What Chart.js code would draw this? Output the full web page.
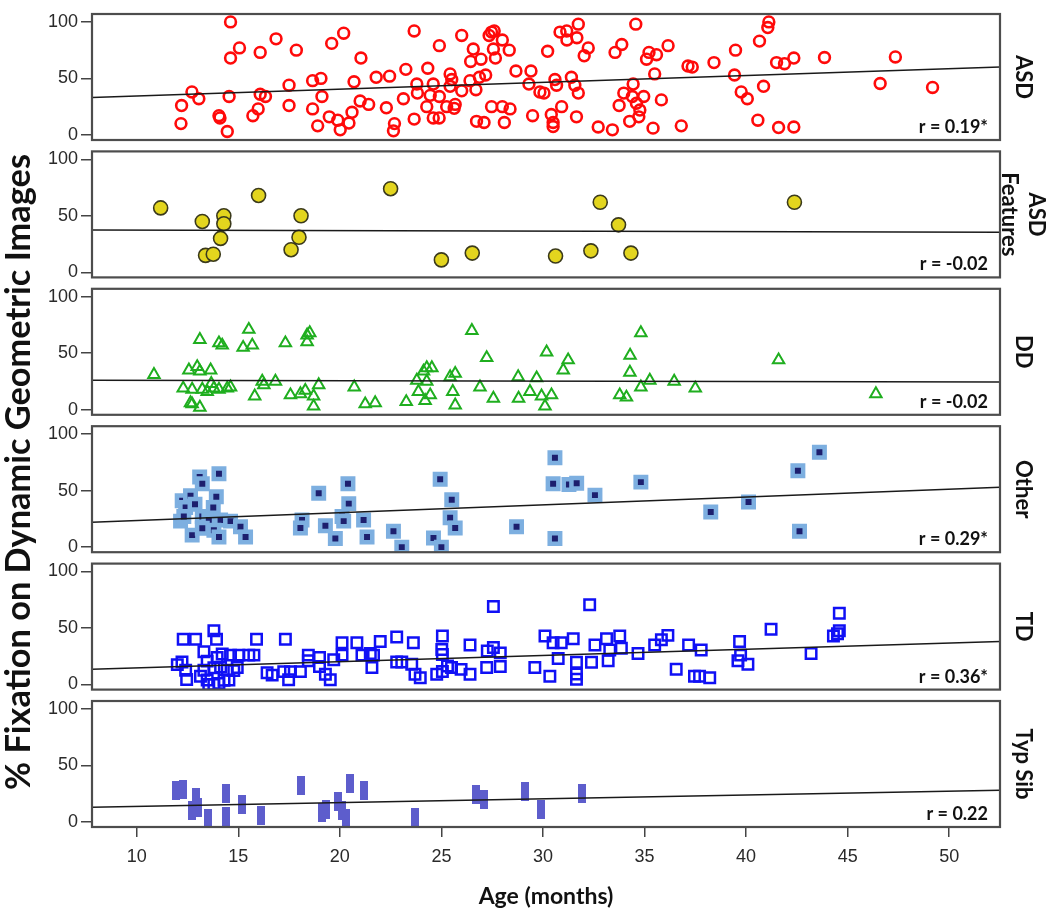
<!DOCTYPE html>
<html><head><meta charset="utf-8">
<script src="https://cdn.jsdelivr.net/npm/chart.js@4.4.1/dist/chart.umd.min.js"></script>
<style>html,body{margin:0;padding:0;background:#fff;}#wrap{position:relative;width:1050px;height:918px;}canvas{display:block;}</style>
</head><body><div id="wrap"><canvas id="c" width="1050" height="918"></canvas></div>
<script>
// ---------- data ----------
const xTicks = [10, 15, 20, 25, 30, 35, 40, 45, 50];
const yTicks = [0, 50, 100];
const xRange = [7.8, 52.5];
const yRange = [-4.5, 107];
const groupNames = ['ASD', ['ASD', 'Features'], 'DD', 'Other', 'TD', 'Typ Sib'];
const rLabels = ['r = 0.19*', 'r = -0.02', 'r = -0.02', 'r = 0.29*', 'r = 0.36*', 'r = 0.22'];
const xTitle = 'Age (months)';
const yTitle = '% Fixation on Dynamic Geometric Images';
// fit line values at the left / right edge of the age range
const fitLeft = [33, 37.5, 26, 22, 13.5, 13];
const fitRight = [60, 35.5, 24.5, 53, 38, 28];

const asdPoints = [[14.62,100],[15.06,77],[14.62,68],[16.08,73],[16.86,85],[17.86,75],[19.6,81],[20.19,90],[12.21,26],[12.18,10],[12.72,38],[13.06,32],[14.05,17],[14.1,15],[14.46,3],[14.55,34],[15.72,17],[15.98,23],[16.08,36],[16.34,34],[17.5,44],[17.5,26],[18.66,48],[19.07,50],[19.12,34],[18.66,23],[18.91,8],[19.48,16],[19.9,13],[20.02,4.5],[20.6,20],[20.45,10.5],[20.7,47],
[23.66,92],[21.04,68],[24.9,79],[26.0,88],[27.47,91],[27.35,88],[27.6,92],[28.0,84],[26.57,76],[28.34,75],[27.56,76],[27.66,68],[26.44,65],[26.95,67],[30.23,74],[30.84,91],[31.17,92],[31.74,98],[31.18,84],[31.67,86],[32.23,77],[32.03,70],[33.55,73],[33.88,80],[34.57,98],[35.1,67],[35.22,73],[35.59,71],[36.16,79],[37.14,61],[35.5,54],
[21.79,51],[22.45,52],[23.25,58],[24.33,59],[23.79,45],[23.82,37],[23.13,32],[21.0,30],[21.42,27],[22.29,24],[22.69,10],[22.64,3.6],[23.66,14],[24.28,25],[24.45,35],[24.6,45],[24.9,34],[24.6,15],[24.89,15],[25.26,25],[25.43,54],[25.51,49],[25.43,43],[25.68,27],[25.63,23.5],[26.0,39],[26.41,48],[26.7,40],[26.87,51],[27.18,53],[27.47,25],[28.0,25],[28.38,23],[26.73,12],[27.1,11],[28.1,11],[28.67,56.5],[29.41,56.5],[29.31,45],[29.85,38],[30.05,37],[29.49,17],[30.41,18],[30.5,11],[30.59,49],[30.67,44],[30.92,25],[30.5,7.4],[31.4,51],[31.57,44],[31.74,37],[31.65,16],[32.72,7],[33.42,4.5],[33.75,26],[33.98,37],[34.44,45],[34.4,34],[34.6,28],[34.77,22],[34.96,34],[34.27,12],[34.72,16],[35.42,6],[35.83,31],[36.81,8],
[41.12,100],[41.07,95],[40.66,83],[39.48,75],[38.42,64],[37.35,60],[39.43,53],[39.76,38],[40.06,32],[40.86,43],[40.58,13],[41.6,6.5],[42.35,7],[41.5,64],[41.89,63],[42.35,68],[43.86,68.5],[47.35,69],[46.6,45.5],[49.18,42]];

const featPoints = [[11.18,57],[13.23,45],[14.29,50],[14.29,43],[14.13,30],[13.39,15],[13.77,16],[16.0,68],[18.09,50],[17.99,31],[17.6,20],[22.5,74],[25.0,11],[26.52,17],[32.82,62],[33.72,42],[30.62,14.4],[32.36,19],[34.33,17],[42.38,62]];

const ddPoints = [[10.85,31],[13.11,62],[12.29,19],[12.57,35],[12.98,38],[13.11,34],[13.64,35],[12.73,18],[13.23,18],[13.47,16],[13.8,19],[14.05,18],[14.46,19],[14.62,20],[13.67,23],[12.65,6],[12.73,5],[13.11,2],[14.05,59],[14.21,57],[15.24,55],[15.69,57],[15.52,71],[15.81,12],[16.18,25],[16.26,22],[16.83,25],[17.32,59],[17.57,13],[18.06,14],[18.3,17],[18.39,66],[18.52,68],[18.39,60],[18.71,12],[18.71,3],[18.96,22],[20.71,20],[21.25,5],[21.74,6],[23.27,7],[23.79,26],[23.87,16],[24.12,34],[24.28,37],[24.28,25],[24.45,13],[24.2,8],[24.53,37],[25.43,29],[25.68,32],[25.56,16],[25.68,4],[26.5,70],[27.23,46],[26.9,20],[27.56,10],[28.78,29],[28.8,10],[29.69,28],[29.36,16],[29.93,12],[30.1,3],[30.42,13],[30.18,51],[31.24,44],[31.0,35],[34.82,68],[34.29,48],[34.28,33],[33.78,13],[34.11,11],[34.82,20],[35.26,26],[36.46,25],[37.5,19],[41.6,44],[46.39,14]];

const otherPoints = [[13.1,62],[14.05,65],[13.23,56],[12.24,41],[12.65,45.5],[12.41,35],[12.87,38],[13.92,44.5],[13.77,35],[12.16,23],[12.32,27],[13.23,27],[13.55,24],[14.13,24],[12.73,10.6],[13.23,16.7],[13.8,15],[14.05,9],[14.62,23],[15.11,18],[15.36,9],[18.14,24],[18.06,17],[18.96,47.6],[19.29,19],[19.78,7.6],[20.4,56],[20.44,38.5],[20.11,27],[20.19,23],[21.17,24],[21.34,9],[22.64,14],[23.05,0],[24.61,8],[24.94,60],[25.0,0],[25.51,42],[25.43,26],[25.68,17],[28.7,18],[30.59,79],[30.5,56],[31.28,55.5],[31.66,56.6],[32.56,46],[30.59,7.6],[34.82,57.5],[38.26,31],[40.12,40],[42.55,67.5],[43.61,84],[42.63,14]];

const tdPoints = [[12.29,40],[12.9,40],[13.8,47.5],[13.93,40],[12.0,17.6],[12.23,20],[12.46,4.4],[12.41,12.7],[13.14,7.4],[13.31,29],[13.47,4],[13.55,0],[13.8,0],[14.05,1],[14.3,3.7],[14.54,4],[13.31,12.7],[13.8,14.8],[14.13,15.4],[14.46,12.7],[14.78,12.3],[14.95,15],[13.47,20.7],[13.96,24],[14.21,27],[14.62,26],[15.03,26],[15.52,26],[15.77,26],[15.9,40],[16.67,8.3],[16.42,10.5],[17.32,40],[17.24,11.4],[17.57,11.4],[17.48,4.3],[18.06,11.4],[18.45,26],[18.45,21],[19.0,24],[19.0,16],[19.29,9],[19.53,4.3],[19.7,22],[20.11,37],[20.11,26],[20.84,37],[21.09,26],[21.5,27.5],[21.58,15],[21.66,26],[21.99,38],[22.8,42],[22.8,20],[23.05,20],[23.62,37],[23.54,18],[23.7,9],[23.96,6],[24.77,9],[25.02,31],[25.05,43],[25.05,26.5],[25.05,11.5],[25.3,16.4],[25.5,15],[25.97,13.4],[26.41,9],[26.41,35],[27.23,15],[27.26,29.6],[27.56,69],[27.56,32.7],[27.9,28],[27.9,16],[29.6,15],[30.1,43],[30.34,7.4],[30.5,37],[30.75,23],[30.9,37],[31.49,40.5],[31.65,19.7],[31.65,9.3],[31.65,4.6],[32.3,70.6],[32.39,19.7],[32.56,35],[33.13,40.5],[33.21,21],[33.29,30.6],[33.78,43],[33.86,32],[34.68,27.5],[35.5,35],[35.83,39.6],[36.15,43.5],[36.56,13.6],[37.17,35],[37.46,7.4],[37.79,30.6],[37.71,7.4],[38.21,6],[39.68,38],[39.73,26],[40.09,18],[39.6,21],[41.23,49],[43.2,27.5],[44.59,63],[44.59,47.5],[44.3,43],[44.5,45]];

const sibPoints = [[11.95,28],[12.3,29],[12.9,22],[12.7,10],[13.0,13],[13.5,3],[14.4,25],[14.4,5],[15.2,15],[16.1,6],[18.1,32],[19.1,8],[19.3,11],[19.9,18],[20.1,10],[20.3,3],[20.5,34],[21.2,28],[23.7,4],[26.7,24],[27.1,20],[29.1,27],[29.9,11],[31.9,25]];

// ---------- styles ----------
function barMarker(w, h, color) {
  const c = document.createElement('canvas');
  c.width = w; c.height = h;
  const g = c.getContext('2d');
  g.fillStyle = color; g.fillRect(0, 0, w, h);
  return c;
}
const groups = [asdPoints, featPoints, ddPoints, otherPoints, tdPoints, sibPoints];
const markerStyles = [
  {pointStyle: 'circle', pointRadius: 5.4, pointBorderWidth: 2.6, pointBorderColor: '#ff0a0a', pointBackgroundColor: 'rgba(0,0,0,0)'},
  {pointStyle: 'circle', pointRadius: 7, pointBorderWidth: 1.6, pointBorderColor: '#3b3a1c', pointBackgroundColor: '#e3d51e'},
  {pointStyle: 'triangle', pointRadius: 6.6, pointBorderWidth: 2, pointBorderColor: '#1fae1f', pointBackgroundColor: 'rgba(0,0,0,0)'},
  {pointStyle: 'rect', pointRadius: 7.4, pointBorderWidth: 4.5, pointBorderColor: '#7dafe0', pointBackgroundColor: '#1d1f6e'},
  {pointStyle: 'rect', pointRadius: 7.4, pointBorderWidth: 2.5, pointBorderColor: '#1010f5', pointBackgroundColor: 'rgba(0,0,0,0)'},
  {pointStyle: barMarker(8, 19, '#5d5dcc'), pointRadius: 6, pointBorderWidth: 0, pointBorderColor: '#5d5dcc', pointBackgroundColor: '#5d5dcc'}
];

const panelIds = ['p0', 'p1', 'p2', 'p3', 'p4', 'p5'];
const datasets = [];
groups.forEach((pts, i) => {
  datasets.push(Object.assign({
    type: 'scatter', label: [].concat(groupNames[i]).join(' '),
    data: pts.map(p => ({x: p[0], y: p[1]})),
    xAxisID: 'x', yAxisID: panelIds[i], order: 2
  }, markerStyles[i]));
  datasets.push({
    type: 'line', label: 'fit ' + i,
    data: [{x: xRange[0], y: fitLeft[i]}, {x: xRange[1], y: fitRight[i]}],
    xAxisID: 'x', yAxisID: panelIds[i], borderColor: '#1a1a1a', borderWidth: 1.5,
    pointRadius: 0, showLine: true, fill: false, order: 1
  });
});

const tickFont = {family: '"Liberation Sans", Arial, sans-serif', size: 18};
const PANEL_W = 126, GAP_W = 11.4;
const scales = {
  x: {
    type: 'linear', position: 'bottom', min: xRange[0], max: xRange[1],
    afterBuildTicks: s => { s.ticks = xTicks.map(v => ({value: v})); },
    afterFit: s => { s.height = 91; },
    grid: {display: true, drawOnChartArea: false, drawTicks: true, tickLength: 10, color: '#444', lineWidth: 1.5},
    border: {display: false},
    ticks: {font: tickFont, color: '#2a2a2a', padding: 9, maxRotation: 0},
    title: {display: true, text: xTitle, font: {family: 'Lato, "Open Sans", sans-serif', size: 23, weight: 'bold'}, color: '#111', padding: {top: 0, bottom: 8}}
  }
};
// left stacked axes are laid out bottom-up, so define them from the last panel to the first
for (let i = panelIds.length - 1; i >= 0; i--) {
  const id = panelIds[i];
  scales[id] = {
    type: 'linear', position: 'left', stack: 'panels', stackWeight: PANEL_W,
    min: yRange[0], max: yRange[1],
    afterBuildTicks: s => { s.ticks = yTicks.map(v => ({value: v})); },
    afterFit: s => { s.width = 92; },
    grid: {display: true, drawOnChartArea: false, drawTicks: true, tickLength: 11, color: '#444', lineWidth: 1.5},
    border: {display: false},
    ticks: {font: tickFont, color: '#2a2a2a', padding: 3}
  };
  if (i > 0) {
    scales['g' + i] = {
      type: 'linear', position: 'left', stack: 'panels', stackWeight: GAP_W,
      afterFit: s => { s.width = 92; },
      grid: {display: false}, border: {display: false}, ticks: {display: false}
    };
  }
}

const panelPlugin = {
  id: 'panelDecor',
  afterDatasetsDraw(chart) {
    const {ctx, chartArea} = chart;
    panelIds.forEach((id, i) => {
      const s = chart.scales[id];
      ctx.save();
      ctx.strokeStyle = '#4d4d4d'; ctx.lineWidth = 2.2;
      ctx.strokeRect(chartArea.left, s.top, chartArea.right - chartArea.left, s.bottom - s.top);
      ctx.fillStyle = '#111';
      ctx.font = 'bold 18px Lato, "Open Sans", sans-serif';
      ctx.textAlign = 'right'; ctx.textBaseline = 'alphabetic';
      ctx.fillText(rLabels[i], chartArea.right - 12, s.bottom - 7);
      ctx.translate(1023, (s.top + s.bottom) / 2);
      ctx.rotate(Math.PI / 2);
      ctx.font = 'bold 22px Lato, "Open Sans", sans-serif';
      ctx.textAlign = 'center'; ctx.textBaseline = 'middle';
      const lines = [].concat(groupNames[i]);
      const lh = 27;
      lines.forEach((t, k) => ctx.fillText(t, 0, (k - (lines.length - 1) / 2) * lh));
      ctx.restore();
    });
    // y-axis title spanning all panels
    ctx.save();
    ctx.fillStyle = '#111';
    ctx.font = 'bold 100px Lato, "Open Sans", sans-serif';
    const w = ctx.measureText(yTitle).width;
    const size = 100 * 636 / w;
    ctx.font = 'bold ' + size.toFixed(2) + 'px Lato, "Open Sans", sans-serif';
    ctx.translate(19, 472);
    ctx.rotate(-Math.PI / 2);
    ctx.textAlign = 'center'; ctx.textBaseline = 'middle';
    ctx.fillText(yTitle, 0, 0);
    ctx.restore();
  }
};

new Chart(document.getElementById('c'), {
  type: 'scatter',
  data: {datasets},
  options: {
    responsive: false, animation: false, events: [],
    layout: {padding: {left: 0, right: 50, top: 14, bottom: 0}, autoPadding: false},
    plugins: {legend: {display: false}, tooltip: {enabled: false}},
    scales
  },
  plugins: [panelPlugin]
});
</script></body></html>
